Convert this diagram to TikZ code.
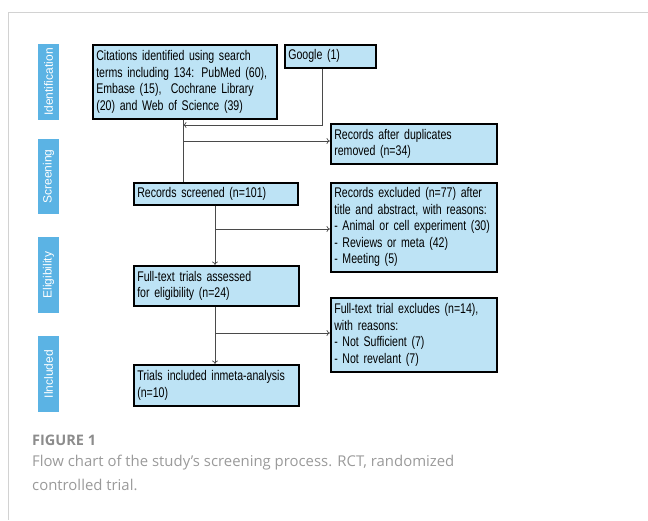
\documentclass[tikz,border=0pt]{standalone}
\usepackage{fontspec}
\usetikzlibrary{arrows.meta,calc}
\newfontfamily\boxfont[FakeStretch=0.755]{Liberation Sans}
\newfontfamily\sidefont{Liberation Sans}
\newfontfamily\capfont{Open Sans}
\definecolor{boxblue}{HTML}{BDE3F5}
\definecolor{sideblue}{HTML}{5BB3E4}
\definecolor{linegray}{HTML}{4A4A4A}
\definecolor{framegray}{HTML}{D2D2D2}
\definecolor{capgray}{HTML}{8C8C8C}
\definecolor{captext}{HTML}{9A9A9A}
\tikzset{
  flowbox/.style={draw=black, line width=1.6pt, fill=boxblue, anchor=north west,
    font=\boxfont\fontsize{14}{16.5}\selectfont, align=left, inner xsep=3.5pt, inner ysep=2pt},
  sidebox/.style={fill=sideblue, text=white, rotate=90, inner sep=0pt,
    font=\sidefont\fontsize{12}{13}\selectfont},
  conn/.style={draw=linegray, line width=0.7pt},
  arr/.style={conn, -{To[length=3.5pt,width=6pt]}}
}
\begin{document}
\begin{tikzpicture}[x=1pt,y=-1pt]
\useasboundingbox (0,0) rectangle (648,520);
% frame
\draw[framegray, line width=1pt] (648,12) -- (8.5,12) -- (8.5,520);
% side labels
\node[sidebox, minimum width=76pt, minimum height=21pt] (sid) at (48.5,82) {Identification};
\node[sidebox, minimum width=75pt, minimum height=21pt] (sscr) at (48.5,176.5) {Screening};
\node[sidebox, minimum width=76pt, minimum height=21pt] (sel) at (48.5,275) {Eligibility};
\node[sidebox, minimum width=76pt, minimum height=21pt] (sinc) at (48.5,374) {Ilncluded};
% boxes
\node[flowbox, text width=177pt, minimum height=74pt] (cit) at (92,44)
  {\mbox{Citations identified using search}\\\mbox{terms including 134: PubMed (60),}\\\mbox{Embase (15),\ \ Cochrane Library}\\\mbox{(20) and Web of Science (39)}};
\node[flowbox, text width=84pt, minimum height=23pt, inner ysep=1pt] (goo) at (284,44) {Google (1)};
\node[flowbox, text width=159pt, minimum height=40pt] (dup) at (330,123)
  {Records after duplicates\\removed (n=34)};
\node[flowbox, text width=157pt, minimum height=22pt, inner ysep=1pt] (scr) at (133,182)
  {\mbox{Records screened (n=101)}};
\node[flowbox, text width=159pt, minimum height=89pt] (exc) at (330,182)
  {\mbox{Records excluded (n=77) after}\\\mbox{title and abstract, with reasons:}\\\mbox{- Animal or cell experiment (30)}\\\mbox{- Reviews or meta (42)}\\\mbox{- Meeting (5)}};
\node[flowbox, text width=158pt, minimum height=40pt] (ft) at (133,265)
  {Full-text trials assessed\\for eligibility (n=24)};
\node[flowbox, text width=159pt, minimum height=74pt] (ftx) at (330,297)
  {\mbox{Full-text trial excludes (n=14),}\\with reasons:\\- Not Sufficient (7)\\- Not revelant (7)};
\node[flowbox, text width=158pt, minimum height=41pt] (inc) at (133,364)
  {\mbox{Trials included inmeta-analysis}\\(n=10)};
% connectors
\coordinate (g1) at (322,125);
\coordinate (b1) at (183,141);
\draw[conn] (cit.south -| b1) -- (b1 |- scr.north);
\draw[arr] (goo.south -| g1) -- (g1) -- (b1 |- g1);
\draw[arr] (b1) -- (dup.west |- b1);
\coordinate (b2) at (215,229);
\draw[arr] (scr.south -| b2) -- (ft.north -| b2);
\draw[arr] (b2) -- (exc.west |- b2);
\coordinate (b3) at (215,333);
\draw[arr] (ft.south -| b3) -- (inc.north -| b3);
\draw[arr] (b3) -- (ftx.west |- b3);
% caption
\node[anchor=west, inner sep=0pt, text=capgray, font=\capfont\bfseries\fontsize{14.5}{16}\selectfont] (fig) at (32,440) {FIGURE 1};
\node[anchor=north west, inner sep=0pt, text=captext, align=left, font=\capfont\fontsize{14.9}{24}\selectfont] (cap) at (32,455)
  {Flow chart of the study’s screening process. RCT, randomized\\controlled trial.};
\end{tikzpicture}
\end{document}
